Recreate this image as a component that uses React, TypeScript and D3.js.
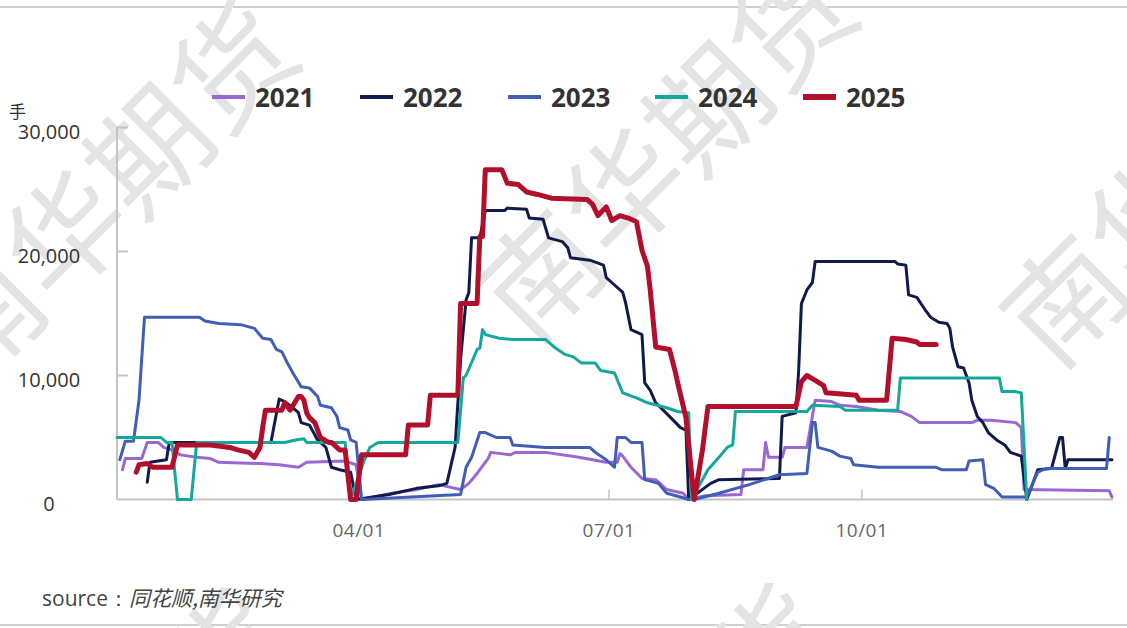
import React from 'react';
import * as d3 from 'd3';

type Pt = [string, number];

// 2021..2025 series, [month-day, value in 手]
const s2021: Pt[] = [
  ['01-05', 2400], ['01-06', 3300], ['01-12', 3300], ['01-14', 4600], ['01-18', 4600], ['01-20', 4200],
  ['01-23', 4000], ['01-26', 3600], ['02-01', 3400], ['02-06', 3300], ['02-09', 3000], ['02-24', 2900],
  ['03-03', 2800], ['03-10', 2600], ['03-13', 3000], ['03-27', 3100], ['03-31', 2800], ['04-02', 0],
  ['04-13', 500], ['04-22', 800], ['04-30', 1200], ['05-04', 1000], ['05-08', 800], ['05-11', 1300],
  ['05-14', 2100], ['05-18', 3300], ['05-19', 3800], ['05-26', 3600], ['05-28', 3800], ['06-08', 3800],
  ['06-20', 3400], ['06-30', 3000], ['07-04', 3000], ['07-05', 3700], ['07-06', 3500], ['07-09', 2600],
  ['07-13', 1700], ['07-18', 1600], ['07-22', 800], ['07-28', 500], ['07-30', 0], ['08-05', 300],
  ['08-18', 400], ['08-19', 2400], ['08-26', 2400], ['08-27', 4600], ['08-28', 3400], ['09-02', 3400],
  ['09-03', 4200], ['09-11', 4200], ['09-14', 8000], ['09-20', 7900], ['09-23', 7600], ['09-29', 7500],
  ['10-07', 7200], ['10-15', 7100], ['10-19', 6700], ['10-22', 6200], ['11-10', 6200], ['11-12', 6400],
  ['11-17', 6400], ['11-26', 6200], ['11-28', 5800], ['11-29', 800], ['12-30', 700], ['12-31', 200],
];

const s2022: Pt[] = [
  ['01-14', 1400], ['01-15', 3000], ['01-21', 3200], ['01-22', 4600], ['02-28', 4600], ['03-03', 8100],
  ['03-05', 7900], ['03-09', 7200], ['03-10', 7000], ['03-11', 6200], ['03-14', 6000], ['03-17', 4800],
  ['03-20', 4200], ['03-22', 2600], ['03-25', 2400], ['03-29', 2200], ['03-31', 0], ['04-12', 400],
  ['04-22', 900], ['04-30', 1100], ['05-03', 1300], ['05-06', 4200], ['05-08', 11300], ['05-10', 16100],
  ['05-11', 16700], ['05-12', 21100], ['05-15', 21100], ['05-17', 23300], ['05-24', 23300], ['05-25', 23500],
  ['06-01', 23400], ['06-02', 22700], ['06-07', 22600], ['06-09', 21100], ['06-14', 20800], ['06-16', 20300],
  ['06-17', 19500], ['06-24', 19300], ['06-29', 18900], ['06-30', 17900], ['07-02', 17500], ['07-06', 16700],
  ['07-07', 15900], ['07-09', 13700], ['07-13', 13300], ['07-14', 9400], ['07-16', 8800], ['07-18', 7800],
  ['07-23', 6700], ['07-27', 5800], ['07-29', 5600], ['07-30', 0], ['08-07', 1300], ['08-10', 1600],
  ['09-01', 1700], ['09-02', 6700], ['09-07', 7000], ['09-08', 10400], ['09-09', 15800], ['09-11', 16900],
  ['09-13', 17500], ['09-14', 19200], ['10-13', 19200], ['10-14', 19000], ['10-17', 18900], ['10-18', 16500],
  ['10-21', 16300], ['10-24', 15300], ['10-26', 14700], ['10-29', 14300], ['11-01', 14200], ['11-02', 13800],
  ['11-03', 12300], ['11-05', 10700], ['11-07', 10600], ['11-09', 9400], ['11-10', 8000], ['11-12', 6700],
  ['11-14', 6200], ['11-16', 5400], ['11-19', 4800], ['11-22', 4400], ['11-24', 3800], ['11-28', 3500],
  ['11-30', 0], ['12-04', 2400], ['12-09', 2500], ['12-12', 5000], ['12-13', 5000], ['12-14', 2500],
  ['12-15', 3200], ['12-31', 3200],
];

const s2023: Pt[] = [
  ['01-04', 3200], ['01-06', 4700], ['01-09', 4700], ['01-11', 8000], ['01-13', 14700], ['02-02', 14700],
  ['02-04', 14400], ['02-09', 14200], ['02-17', 14100], ['02-22', 13800], ['02-25', 13000], ['02-28', 12900],
  ['03-02', 12100], ['03-04', 11900], ['03-06', 11000], ['03-08', 10200], ['03-11', 9100], ['03-14', 9000],
  ['03-17', 8300], ['03-18', 7600], ['03-22', 7400], ['03-24', 6700], ['03-25', 5800], ['03-28', 5600],
  ['03-29', 4800], ['03-31', 4600], ['04-02', 0], ['04-20', 200], ['05-08', 400], ['05-10', 2600],
  ['05-12', 3400], ['05-15', 5400], ['05-17', 5400], ['05-21', 5000], ['05-26', 5000], ['05-27', 4400],
  ['06-02', 4300], ['06-08', 4200], ['06-24', 4200], ['06-26', 3800], ['06-30', 3200], ['07-03', 2600],
  ['07-04', 5000], ['07-07', 5000], ['07-09', 4600], ['07-13', 4600], ['07-14', 1600], ['07-19', 1300],
  ['07-22', 500], ['07-27', 200], ['07-30', 0], ['08-01', 0], ['08-10', 500], ['08-21', 1200],
  ['09-01', 2000], ['09-11', 2100], ['09-13', 6200], ['09-14', 6200], ['09-15', 4200], ['09-20', 3900],
  ['09-23', 3500], ['09-27', 3300], ['09-28', 2800], ['10-07', 2600], ['10-28', 2600], ['10-30', 2400],
  ['11-08', 2400], ['11-09', 3100], ['11-14', 3200], ['11-15', 1200], ['11-18', 900], ['11-21', 200],
  ['11-30', 200], ['12-04', 2200], ['12-07', 2500], ['12-29', 2500], ['12-30', 5000],
];

const s2024: Pt[] = [
  ['01-03', 5000], ['01-19', 5000], ['01-21', 4600], ['01-23', 4600], ['01-25', 0], ['01-30', 0],
  ['02-01', 4600], ['03-05', 4600], ['03-09', 4800], ['03-12', 4900], ['03-13', 4600], ['03-27', 4600],
  ['03-29', 0], ['04-03', 3200], ['04-05', 4200], ['04-08', 4600], ['05-07', 4600], ['05-09', 9800],
  ['05-10', 10000], ['05-14', 12100], ['05-15', 12200], ['05-16', 13700], ['05-17', 13300], ['05-22', 13000],
  ['05-27', 12900], ['06-08', 12900], ['06-11', 12300], ['06-15', 11700], ['06-18', 11500], ['06-21', 11000],
  ['06-26', 11000], ['06-28', 10400], ['07-03', 10200], ['07-06', 8600], ['07-11', 8200], ['07-15', 7800],
  ['07-22', 7400], ['07-26', 7100], ['07-30', 7000], ['07-31', 0], ['08-06', 2400], ['08-10', 3400],
  ['08-13', 4200], ['08-15', 4400], ['08-16', 7100], ['09-11', 7100], ['09-13', 7600], ['09-23', 7500],
  ['09-25', 7200], ['10-14', 7200], ['10-15', 9800], ['11-20', 9800], ['11-21', 8700], ['11-26', 8700],
  ['11-28', 8600], ['11-30', 0],
];

const s2025: Pt[] = [
  ['01-10', 2200], ['01-11', 2800], ['01-14', 2900], ['01-16', 2600], ['01-23', 2600], ['01-25', 4400],
  ['02-06', 4400], ['02-13', 4200], ['02-16', 4000], ['02-20', 3800], ['02-22', 3400], ['02-24', 4200],
  ['02-25', 5800], ['02-26', 7200], ['03-04', 7200], ['03-05', 7800], ['03-07', 7200], ['03-10', 8300],
  ['03-11', 8300], ['03-12', 8000], ['03-13', 7000], ['03-14', 6600], ['03-16', 6200], ['03-18', 5000],
  ['03-21', 4600], ['03-22', 4600], ['03-25', 4000], ['03-27', 4000], ['03-29', 0], ['03-31', 0],
  ['04-02', 3600], ['04-18', 3600], ['04-19', 6000], ['04-26', 6000], ['04-27', 8400], ['05-07', 8400],
  ['05-08', 15800], ['05-14', 15800], ['05-15', 21200], ['05-16', 21200], ['05-17', 26600], ['05-23', 26600],
  ['05-25', 25500], ['05-29', 25400], ['06-01', 24800], ['06-05', 24600], ['06-10', 24300], ['06-23', 24200],
  ['06-25', 23800], ['06-27', 22900], ['06-30', 23600], ['07-02', 22500], ['07-05', 22900], ['07-08', 22700],
  ['07-11', 22400], ['07-13', 20100], ['07-15', 18800], ['07-16', 16900], ['07-18', 12300], ['07-23', 12100],
  ['07-25', 10400], ['07-26', 9400], ['07-29', 6600], ['08-01', 0], ['08-04', 4000], ['08-06', 7500],
  ['09-07', 7500], ['09-09', 9500], ['09-11', 10000], ['09-14', 9600], ['09-17', 9200], ['09-18', 8600],
  ['09-29', 8400], ['09-30', 8000], ['10-10', 8000], ['10-12', 13000], ['10-17', 12900], ['10-21', 12700],
  ['10-22', 12500], ['10-28', 12500],
];

const seriesNames = ['2021', '2022', '2023', '2024', '2025'];
const seriesData = [s2021, s2022, s2023, s2024, s2025];
const seriesColors = ['#9b68d3', '#101a4c', '#405eb4', '#13a89c', '#b10f2b'];
const seriesWidths = [3, 3, 3, 3, 5];

const xTickDates = ['04-01', '07-01', '10-01'];
const yTicks = [0, 10000, 20000, 30000];

const W = 1127;
const H = 628;
const parse = d3.timeParse('%Y-%m-%d');
const toDate = (md: string) => parse('2001-' + md) as Date;

// diagonal "南华期货" watermark, repeated
const watermarkCenters: [number, number][] = [
  [102, 187], [661, 145], [1185, 170], [95, 775], [640, 770],
];

const App: React.FC = () => {
  const x = d3.scaleTime()
    .domain([toDate('01-03'), toDate('12-31')])
    .range([117, 1112]);
  const y = d3.scaleLinear().domain([0, 30000]).range([499.5, 127.5]);

  const line = d3.line<Pt>()
    .x(d => x(toDate(d[0])))
    .y(d => y(d[1]))
    .curve(d3.curveLinear);

  const fmtX = d3.timeFormat('%m/%d');
  const fmtY = d3.format(',');

  const legendX = [212, 360, 508, 655, 803];

  return (
    <svg width={W} height={H} style={{ position: 'absolute', left: 0, top: 0, background: '#fff' }}
      fontFamily="'Open Sans', 'Noto Sans', sans-serif">
      <rect x={0} y={0} width={W} height={H} fill="#fff" />
      <line x1={0} x2={W} y1={7} y2={7} stroke="#d0d0d0" strokeWidth={2} />
      <line x1={0} x2={W} y1={625} y2={625} stroke="#d0d0d0" strokeWidth={2} />

      <g fill="#e4e4e4" fontFamily="'Noto Sans CJK SC', sans-serif" fontSize={118} fontWeight={400}>
        {watermarkCenters.map(([cx, cy], i) => (
          <text key={i} x={cx} y={cy} textAnchor="middle" dominantBaseline="central"
            transform={`rotate(-45 ${cx} ${cy})`}>南华期货</text>
        ))}
      </g>

      {/* axes */}
      <line x1={117} x2={117} y1={y(30000)} y2={y(0)} stroke="#c4c4c4" strokeWidth={2} />
      <line x1={117} x2={1113} y1={y(0)} y2={y(0)} stroke="#c4c4c4" strokeWidth={2} />
      {yTicks.map(t => (
        <g key={t}>
          {t > 0 && <line x1={117} x2={128} y1={y(t)} y2={y(t)} stroke="#c4c4c4" strokeWidth={2} />}
          <text x={49} y={y(t) + 4} textAnchor="middle" dominantBaseline="central" fontSize={20} fill="#333">
            {fmtY(t)}
          </text>
        </g>
      ))}
      {xTickDates.map(md => {
        const px = x(toDate(md));
        return (
          <g key={md}>
            <line x1={px} x2={px} y1={y(0)} y2={y(0) - 10} stroke="#c4c4c4" strokeWidth={1.5} />
            <text x={px} y={537} textAnchor="middle" fontSize={19} fill="#666" letterSpacing={0.5}>
              {fmtX(toDate(md))}
            </text>
          </g>
        );
      })}
      <text x={9} y={118} fontSize={17} fill="#333" fontFamily="'Noto Sans CJK SC', sans-serif">手</text>

      {seriesData.map((s, i) => (
        <path key={seriesNames[i]} d={line(s) || ''} fill="none" stroke={seriesColors[i]}
          strokeWidth={seriesWidths[i]} strokeLinejoin="round" strokeLinecap="round" />
      ))}

      {/* legend */}
      {seriesNames.map((n, i) => (
        <g key={n}>
          <line x1={legendX[i]} x2={legendX[i] + 33} y1={97} y2={97} stroke={seriesColors[i]}
            strokeWidth={i === 4 ? 6 : 4} />
          <text x={legendX[i] + 43} y={97} dominantBaseline="central" fontSize={26} fontWeight={700} fill="#333">
            {n}
          </text>
        </g>
      ))}

      <text x={42} y={606} fontSize={21} fill="#444">
        source：<tspan fontStyle="italic" fontFamily="'Noto Sans CJK SC', sans-serif">同花顺,南华研究</tspan>
      </text>
    </svg>
  );
};

export default App;
